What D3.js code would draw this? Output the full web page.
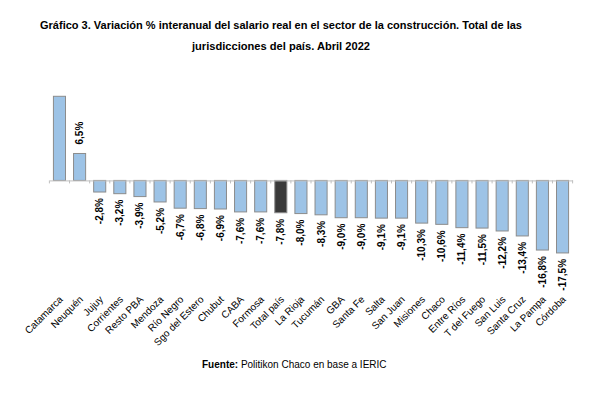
<!DOCTYPE html>
<html>
<head>
<meta charset="utf-8">
<script src="https://cdn.jsdelivr.net/npm/d3@7"></script>
<style>
  html, body { margin: 0; padding: 0; background: #fff; }
  svg { display: block; font-family: "Liberation Sans", Arial, sans-serif; }
</style>
</head>
<body>
<svg id="chart" width="604" height="403"></svg>
<script>
const categories = ["Catamarca","Neuquén","Jujuy","Corrientes","Resto PBA","Mendoza","Río Negro","Sgo del Estero","Chubut","CABA","Formosa","Total país","La Rioja","Tucumán","GBA","Santa Fe","Salta","San Juan","Misiones","Chaco","Entre Ríos","T del Fuego","San Luis","Santa Cruz","La Pampa","Córdoba"];
const values = [20.3, 6.5, -2.8, -3.2, -3.9, -5.2, -6.7, -6.8, -6.9, -7.6, -7.6, -7.8, -8.0, -8.3, -9.0, -9.0, -9.1, -9.1, -10.3, -10.6, -11.4, -11.5, -12.2, -13.4, -16.8, -17.5];
const showLabel = [false, true, true, true, true, true, true, true, true, true, true, true, true, true, true, true, true, true, true, true, true, true, true, true, true, true];
const highlight = "Total país";
const titleLines = ["Gráfico 3. Variación % interanual del salario real en el sector de la construcción. Total de las", "jurisdicciones del país. Abril 2022"];
const sourceBold = "Fuente:";
const sourceText = " Politikon Chaco en base a IERIC";

const svg = d3.select("#chart");
const data = categories.map((c, i) => ({ cat: c, v: values[i], lab: showLabel[i] }));

const x = d3.scaleBand().domain(categories).range([49.4, 572.6]).paddingInner(0.4).paddingOuter(0.2);
const y = d3.scaleLinear().domain([-20, 20.3]).range([263.3, 96.3]).clamp(true);
const y0 = y(0);

// title
const tl = [[titleLines[0], 29, 482], [titleLines[1], 50, 178]];
tl.forEach(([t, by, w]) => {
  svg.append("text").attr("x", 281).attr("y", by).attr("text-anchor", "middle")
    .attr("font-size", 11).attr("font-weight", "bold").attr("fill", "#000")
    .attr("textLength", w).attr("lengthAdjust", "spacingAndGlyphs").text(t);
});

// bars
svg.append("g").selectAll("rect").data(data).join("rect")
  .attr("x", d => x(d.cat))
  .attr("width", x.bandwidth())
  .attr("y", d => Math.min(y(d.v), y0))
  .attr("height", d => Math.abs(y(d.v) - y0))
  .attr("fill", d => d.cat === highlight ? "#3a3a3a" : "#9dc3e6")
  .attr("stroke", "#8c8c8c")
  .attr("stroke-width", 1);

// axis at zero
const axis = d3.axisBottom(x).tickSize(0).tickFormat("");
const ag = svg.append("g").attr("transform", `translate(0,${y0})`).call(axis);
ag.select(".domain").attr("stroke", "#bfbfbf").attr("stroke-width", 1);
// tick marks at band boundaries
const bounds = categories.map(c => x(c) - x.step() * x.paddingInner() / 2).concat([x.range()[1]]);
ag.selectAll("line.bt").data(bounds).join("line").attr("class", "bt")
  .attr("x1", d => d).attr("x2", d => d).attr("y1", 0).attr("y2", 3)
  .attr("stroke", "#bfbfbf");

// value labels
svg.append("g").selectAll("text").data(data.filter(d => d.lab)).join("text")
  .attr("transform", d => {
    const cx = x(d.cat) + x.bandwidth() / 2 + 3.5;
    const yy = d.v >= 0 ? y(d.v) - 9 : y(d.v) + 6;
    return `translate(${cx},${yy}) rotate(-90)`;
  })
  .attr("text-anchor", d => d.v >= 0 ? "start" : "end")
  .attr("font-size", 10).attr("font-weight", "bold").attr("fill", "#000")
  .text(d => d.v.toFixed(1).replace(".", ",") + "%");

// category labels
svg.append("g").selectAll("text").data(data).join("text")
  .attr("transform", d => `translate(${x(d.cat) + x.bandwidth() / 2 + 4},${300}) rotate(-45)`)
  .attr("text-anchor", "end")
  .attr("font-size", 10).attr("fill", "#000")
  .text(d => d.cat);

// source
const st = svg.append("text").attr("x", 202).attr("y", 367.5).attr("font-size", 10).attr("fill", "#000");
st.append("tspan").attr("font-weight", "bold").text(sourceBold);
st.append("tspan").text(sourceText);
</script>
</body>
</html>
